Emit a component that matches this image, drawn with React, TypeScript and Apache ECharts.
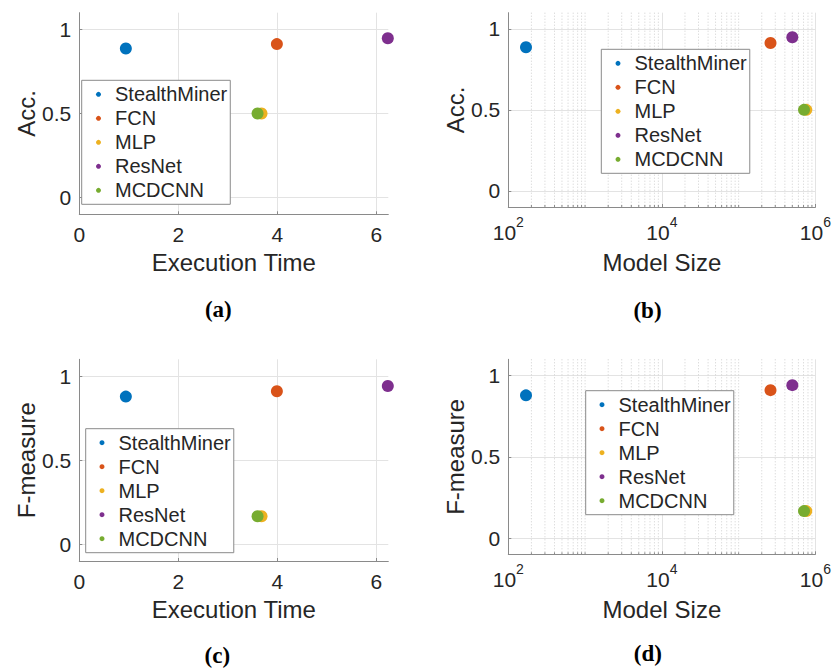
import React, { useEffect, useRef } from "react";
import * as echarts from "echarts";

const MODELS = ["StealthMiner", "FCN", "MLP", "ResNet", "MCDCNN"];
const COLORS = ["#0072BD", "#D95319", "#EDB120", "#7E2F8E", "#77AC30"];
const EXEC_TIME = [0.94, 3.99, 3.68, 6.23, 3.6];
const MODEL_SIZE = [170, 260000, 760000, 500000, 710000];
const ACC = [0.887, 0.913, 0.5, 0.948, 0.5];
const F_MEASURE = [0.878, 0.91, 0.166, 0.941, 0.166];

const Y_TICKS = [0, 0.5, 1];
const TIME_TICKS = [0, 2, 4, 6];
const LOG_MINOR_TICKS = [
  200, 300, 400, 500, 600, 700, 800, 900, 1000,
  2000, 3000, 4000, 5000, 6000, 7000, 8000, 9000,
  20000, 30000, 40000, 50000, 60000, 70000, 80000, 90000, 100000,
  200000, 300000, 400000, 500000, 600000, 700000, 800000, 900000,
];
const CAPTIONS = ["(a)", "(b)", "(c)", "(d)"];

const TXT = "#262626";
const FONT = "Liberation Sans, Arial, Helvetica, sans-serif";
const AXIS_LINE = "#8a8a8a";
const GRID_LINE = "#e3e3e3";

export default function App() {
  const ref = useRef<HTMLDivElement>(null);
  useEffect(() => {
    if (!ref.current) return;
    const chart = echarts.init(ref.current, null, { renderer: "svg" });

    const grids = [
      { left: 79.3, top: 12.7, width: 309, height: 201.6 },
      { left: 508.3, top: 12.7, width: 309, height: 194.3 },
      { left: 79.3, top: 359.3, width: 309, height: 201.7 },
      { left: 508.3, top: 359.3, width: 309, height: 195 },
    ];
    const isLog = [false, true, false, true];
    const yNames = ["Acc.", "Acc.", "F-measure", "F-measure"];
    const yVals = [ACC, ACC, F_MEASURE, F_MEASURE];

    const xAxes = grids.map((_, i) => {
      const common: any = {
        gridIndex: i,
        nameLocation: "middle",
        nameTextStyle: { fontSize: 24, color: TXT, fontFamily: FONT },
        axisLine: { show: true, onZero: false, lineStyle: { color: AXIS_LINE, width: 1 } },
        axisTick: { show: true, inside: true, length: 3, lineStyle: { color: AXIS_LINE } },
        splitLine: { show: true, lineStyle: { color: GRID_LINE, width: 1 } },
      };
      if (isLog[i]) {
        return {
          ...common,
          type: "log",
          logBase: 10,
          min: 100,
          max: 1000000,
          interval: 2,
          name: "Model Size",
          nameGap: 43,
          axisLabel: {
            margin: 8,
            color: TXT,
            fontFamily: FONT,
            formatter: (v: number) => "{b|10}{s|" + Math.round(Math.log10(v)) + "}",
            rich: {
              b: { fontSize: 21, color: TXT, fontFamily: FONT },
              s: { fontSize: 14, color: TXT, fontFamily: FONT, padding: [0, 0, 20, 0] },
            },
          },
        };
      }
      return {
        ...common,
        type: "value",
        min: 0,
        max: 6.24,
        name: "Execution Time",
        nameGap: 36,
        axisLabel: { customValues: TIME_TICKS, margin: 10, fontSize: 21, color: TXT, fontFamily: FONT },
        axisTick: { ...common.axisTick, customValues: TIME_TICKS },
      };
    });

    const yAxes = grids.map((_, i) => ({
      gridIndex: i,
      type: "value",
      min: -0.1,
      max: 1.1,
      name: yNames[i],
      nameLocation: "middle",
      nameGap: isLog[i] ? 41 : 40,
      nameTextStyle: { fontSize: 24, color: TXT, fontFamily: FONT },
      axisLine: { show: true, onZero: false, lineStyle: { color: AXIS_LINE, width: 1 } },
      axisTick: { show: true, inside: true, length: 3, customValues: Y_TICKS, lineStyle: { color: AXIS_LINE } },
      axisLabel: { customValues: Y_TICKS, margin: 8, fontSize: 21, color: TXT, fontFamily: FONT },
      splitLine: { show: true, lineStyle: { color: GRID_LINE, width: 1 } },
    }));

    const series: any[] = [];
    grids.forEach((_, gi) => {
      if (isLog[gi]) {
        series.push({
          type: "custom",
          name: "minor-" + gi,
          xAxisIndex: gi,
          yAxisIndex: gi,
          silent: true,
          z: 1,
          clip: false,
          data: LOG_MINOR_TICKS.map((v) => [v, 0]),
          renderItem: (params: any, api: any) => {
            const cs = params.coordSys;
            const x = api.coord([api.value(0), 0])[0];
            const bottom = cs.y + cs.height;
            return {
              type: "group",
              children: [
                {
                  type: "line",
                  shape: { x1: x, y1: cs.y, x2: x, y2: bottom },
                  style: { stroke: "#cfcfcf", lineWidth: 1, lineDash: [1, 2] },
                },
                {
                  type: "line",
                  shape: { x1: x, y1: bottom, x2: x, y2: bottom - 2 },
                  style: { stroke: AXIS_LINE, lineWidth: 1 },
                },
              ],
            };
          },
        });
      }
      MODELS.forEach((m, k) => {
        const xv = isLog[gi] ? MODEL_SIZE[k] : EXEC_TIME[k];
        series.push({
          type: "scatter",
          name: m,
          xAxisIndex: gi,
          yAxisIndex: gi,
          symbol: "circle",
          symbolSize: 12,
          z: 3,
          itemStyle: { color: COLORS[k], opacity: 1 },
          emphasis: { disabled: true },
          data: [[xv, yVals[gi][k]]],
        });
      });
    });

    const legendPos = [
      { left: 81.7, top: 80.3, padLeft: 14.3 },
      { left: 601.3, top: 49.3, padLeft: 14.2 },
      { left: 85.7, top: 428.7, padLeft: 13.8 },
      { left: 585.7, top: 390.7, padLeft: 13.8 },
    ];
    const legends = legendPos.map((p) => ({
      show: true,
      orient: "vertical",
      left: p.left,
      top: p.top,
      data: MODELS,
      icon: "circle",
      itemWidth: 5,
      itemHeight: 5,
      itemGap: 0,
      selectedMode: false,
      padding: [2, 3, 2, p.padLeft],
      borderColor: "#8a8a8a",
      borderWidth: 1,
      backgroundColor: "#ffffff",
      textStyle: { fontSize: 20, lineHeight: 24, color: TXT, fontFamily: FONT, padding: [0, 0, 0, 9] },
    }));

    const capPos = [
      [218.3, 309.3],
      [647.5, 310],
      [217.3, 655],
      [647.8, 653.3],
    ];
    const graphic = CAPTIONS.map((c, i) => ({
      type: "text",
      x: capPos[i][0],
      y: capPos[i][1],
      silent: true,
      style: {
        text: c,
        fill: "#000",
        fontSize: 23,
        fontWeight: "bold",
        fontFamily: "Liberation Serif, Times New Roman, serif",
        textAlign: "center",
        textVerticalAlign: "middle",
      },
    }));

    chart.setOption({
      animation: false,
      backgroundColor: "#ffffff",
      grid: grids,
      xAxis: xAxes,
      yAxis: yAxes,
      legend: legends,
      series,
      graphic,
    });

    return () => chart.dispose();
  }, []);

  return (
    <div
      ref={ref}
      style={{ position: "fixed", left: 0, top: 0, width: 834, height: 668, background: "#fff" }}
    />
  );
}
